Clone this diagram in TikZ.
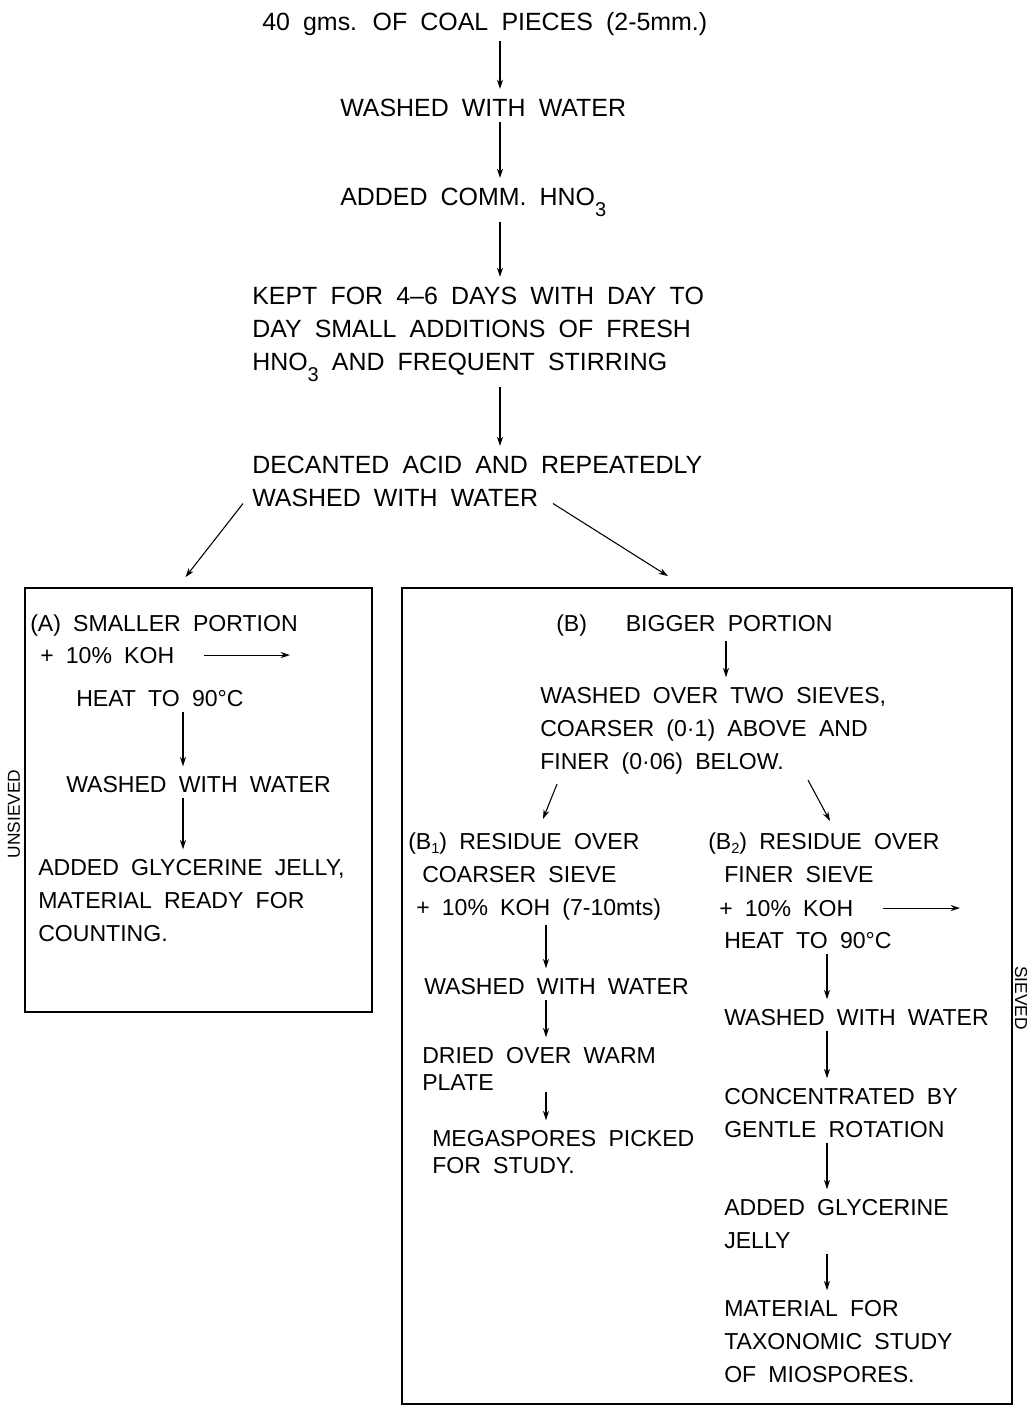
\documentclass[tikz,border=0pt]{standalone}
\usepackage{fontspec}
\setmainfont{Liberation Sans}[WordSpace=1.9]
\usetikzlibrary{arrows.meta,fit}
\newcommand{\lowidx}[1]{\raisebox{-0.45em}{\fontsize{15pt}{15pt}\selectfont #1}}
\newcommand{\bidx}[1]{\raisebox{-0.2em}{\fontsize{11pt}{11pt}\selectfont #1}}
\begin{document}
\begin{tikzpicture}[x=0.75pt,y=-0.75pt,
    txt/.style={anchor=base west,inner sep=0pt,align=left,
      font=\fontsize{18.7pt}{24.75pt}\selectfont},
    inbox/.style={txt,font=\fontsize{17.3pt}{24.75pt}\selectfont},
    tight/.style={inbox,font=\fontsize{17.3pt}{20.25pt}\selectfont},
    flow/.style={-{Stealth[length=7pt,width=4.5pt]},line width=0.8pt,
      shorten <=4pt,shorten >=7pt},
    diag/.style={-{Stealth[length=7pt,width=4.5pt]},line width=0.8pt},
    box/.style={draw,line width=1.3pt,inner sep=0pt},
    side/.style={inner sep=0pt,font=\fontsize{13pt}{13pt}\selectfont}]
\useasboundingbox (0,0) rectangle (1030,1407);

% columnas de flechas
\coordinate (colM) at (500,0);
\coordinate (colA) at (183,0);
\coordinate (colB) at (726,0);
\coordinate (colB1) at (546,0);
\coordinate (colB2) at (827,0);
\coordinate (hotA) at (290,0);
\coordinate (hotB) at (960,0);

% tronco (base = ultima linea)
\begin{scope}[every node/.style={txt}]
    \node (coal) at (262,30) {40 gms. OF COAL PIECES (2-5mm.)};
    \node (washI) at (340,116) {WASHED WITH WATER};
    \node (acid) at (340,205) {ADDED COMM. HNO\lowidx{3}};
    \node (kept) at (252,370) {KEPT FOR 4--6 DAYS WITH DAY TO\\
        DAY SMALL ADDITIONS OF FRESH\\HNO\lowidx{3} AND FREQUENT STIRRING};
    \node (decant) at (252,506) {DECANTED ACID AND REPEATEDLY\\WASHED WITH WATER};
\end{scope}
\begin{scope}[flow]
    \draw (coal.south -| colM) -- (washI.north -| colM);
    \draw (washI.south -| colM) -- (acid.north -| colM);
    \draw (acid.south -| colM) -- (kept.north -| colM);
    \draw (kept.south -| colM) -- (decant.north -| colM);
\end{scope}

% cajas
\node[box,fit={(25,588) (372,1012)}] (boxA) {};
\node[box,fit={(402,588) (1012,1404)}] (boxB) {};
\node[side,rotate=90] (unsieved) at (14,814) {UNSIEVED};
\node[side,rotate=-90] (sieved) at (1021,998) {SIEVED};
\draw[diag] ([shift={(-9,-3)}]decant.south west) -- ([shift={(-13,-10)}]boxA.north);
\draw[diag] ([shift={(301,-3)}]decant.south west) -- ([shift={(-39,-11)}]boxB.north);

% (A)
\begin{scope}[every node/.style={inbox}]
    \node (smallA) at (30,631) {(A) SMALLER PORTION};
    \node (kohA) at (40,663) {+ 10\% KOH};
    \node (heatA) at (76,706) {HEAT TO 90°C};
    \node (washA) at (66,792) {WASHED WITH WATER};
    \node (jellyA) at (38,941) {ADDED GLYCERINE JELLY,\\MATERIAL READY FOR\\COUNTING.};
\end{scope}
\draw[diag,shorten <=22pt] (kohA.east) -- (kohA.east -| hotA);
\begin{scope}[flow]
    \draw (heatA.south -| colA) -- (washA.north -| colA);
    \draw (washA.south -| colA) -- (jellyA.north -| colA);
\end{scope}

% (B)
\begin{scope}[every node/.style={inbox}]
    \node (bigB) at (556,631) {(B)\hspace{20pt} BIGGER PORTION};
    \node (sieves) at (540,769) {WASHED OVER TWO SIEVES,\\
        COARSER (0·1) ABOVE AND\\FINER (0·06) BELOW.};
    \node (resB1) at (408,882) {(B\bidx{1}) RESIDUE OVER\\\hspace*{10.5pt}COARSER SIEVE};
    \node (kohB1) at (416,915) {+ 10\% KOH (7-10mts)};
    \node (washB1) at (424,994) {WASHED WITH WATER};
    \node[tight] (dryB1) at (422,1090) {DRIED OVER WARM\\PLATE};
    \node[tight] (megaB1) at (432,1173) {MEGASPORES PICKED\\FOR STUDY.};
    \node (resB2) at (708,882) {(B\bidx{2}) RESIDUE OVER\\\hspace*{12pt}FINER SIEVE};
    \node (kohB2) at (719,916) {+ 10\% KOH};
    \node (heatB2) at (724,948) {HEAT TO 90°C};
    \node (washB2) at (724,1025) {WASHED WITH WATER};
    \node (concB2) at (724,1137) {CONCENTRATED BY\\GENTLE ROTATION};
    \node (jellyB2) at (724,1248) {ADDED GLYCERINE\\JELLY};
    \node (taxB2) at (724,1382) {MATERIAL FOR\\TAXONOMIC STUDY\\OF MIOSPORES.};
\end{scope}
\draw[flow] (bigB.south -| colB) -- (sieves.north -| colB);
\draw[diag] ([shift={(17,10)}]sieves.south west) -- ([shift={(135,-13)}]resB1.north west);
\draw[diag] ([shift={(268,6)}]sieves.south west) -- ([shift={(122,-11)}]resB2.north west);
\draw[diag,shorten <=22pt] (kohB2.east) -- (kohB2.east -| hotB);
\begin{scope}[flow]
    \draw (kohB1.south -| colB1) -- (washB1.north -| colB1);
    \draw (washB1.south -| colB1) -- (dryB1.north -| colB1);
    \draw ([yshift=-30pt]dryB1.north -| colB1) -- (megaB1.north -| colB1);
    \draw (heatB2.south -| colB2) -- (washB2.north -| colB2);
    \draw (washB2.south -| colB2) -- (concB2.north -| colB2);
    \draw (concB2.south -| colB2) -- (jellyB2.north -| colB2);
    \draw (jellyB2.south -| colB2) -- (taxB2.north -| colB2);
\end{scope}
\end{tikzpicture}
\end{document}
